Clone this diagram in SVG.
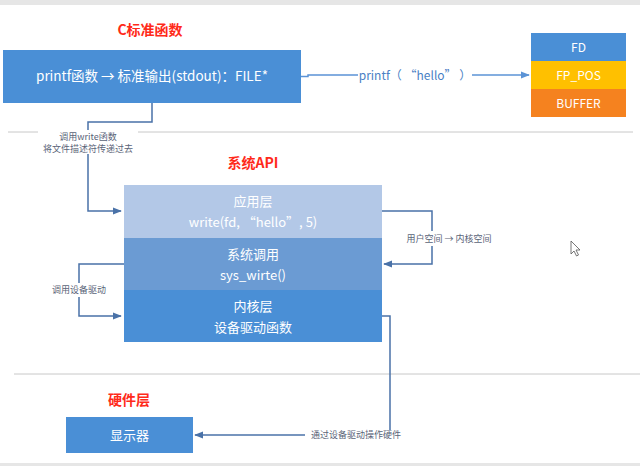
<svg xmlns="http://www.w3.org/2000/svg" width="640" height="466" viewBox="0 0 640 466">
<defs>
<style>
text{font-family:"Noto Sans CJK SC","Noto Sans",sans-serif;}
.title{fill:#ff2a1a;font-size:14px;font-weight:bold;text-anchor:middle;}
.w{fill:#ffffff;font-size:13px;text-anchor:middle;}
.wb{fill:#ffffff;font-size:13.5px;text-anchor:middle;}
.ws{fill:#ffffff;font-size:12px;text-anchor:middle;}
.lbl{fill:#5a6478;font-size:9px;text-anchor:middle;}
.conn{fill:none;stroke:#4a72a8;stroke-width:1.5;}
.conn2{fill:none;stroke:#5b93d6;stroke-width:1.5;}
.sep{stroke:#c8c8c8;stroke-width:1;}
</style>
<marker id="ah" viewBox="0 0 10 10" refX="9" refY="5" markerWidth="6" markerHeight="6" orient="auto-start-reverse">
<path d="M0,1 L10,5 L0,9 z" fill="#4a72a8"/>
</marker>
<marker id="ah2" viewBox="0 0 10 10" refX="9" refY="5" markerWidth="6" markerHeight="6" orient="auto-start-reverse">
<path d="M0,1 L10,5 L0,9 z" fill="#5b93d6"/>
</marker>
</defs>
<rect x="0" y="0" width="640" height="466" fill="#ffffff"/>
<rect x="0" y="0" width="640" height="5" fill="#e6e6e6"/>
<rect x="0" y="463" width="640" height="3" fill="#e6e6e6"/>

<g id="separators">
<line class="sep" x1="8" y1="132" x2="38" y2="132"/>
<line class="sep" x1="138" y1="132" x2="633" y2="132"/>
<line class="sep" x1="14" y1="374" x2="640" y2="374"/>
</g>

<g id="title-c"><text class="title" x="150" y="35">C标准函数</text></g>
<g id="title-api"><text class="title" x="253" y="168">系统API</text></g>
<g id="title-hw"><text class="title" x="129" y="405">硬件层</text></g>

<g id="stdout-box">
<rect x="3" y="50" width="298" height="53" fill="#4a8fd6"/>
<text class="wb" x="152" y="81">printf函数 → 标准输出(stdout)：FILE*</text>
</g>

<g id="file-struct">
<rect x="531" y="33" width="95" height="28" fill="#4a8fd6"/>
<text class="ws" x="578.5" y="51.5">FD</text>
<rect x="531" y="61" width="95" height="28" fill="#ffc000"/>
<text class="ws" x="578.5" y="79.5">FP_POS</text>
<rect x="531" y="89" width="95" height="28" fill="#f5821f"/>
<text class="ws" x="578.5" y="107.5">BUFFER</text>
</g>

<g id="api-stack">
<rect x="124" y="185" width="258" height="53" fill="#b3c8e7"/>
<text class="w" x="253" y="206">应用层</text>
<text class="w" x="253" y="227">write(fd, “hello”, 5)</text>
<rect x="124" y="238" width="258" height="52" fill="#6b9bd3"/>
<text class="w" x="253" y="259">系统调用</text>
<text class="w" x="253" y="280">sys_wirte()</text>
<rect x="124" y="290" width="258" height="52" fill="#4a8fd6"/>
<text class="w" x="253" y="311">内核层</text>
<text class="w" x="253" y="332">设备驱动函数</text>
</g>

<g id="display">
<rect x="66" y="417" width="127" height="36" fill="#4a8fd6"/>
<text class="w" x="129.5" y="440">显示器</text>
</g>

<g id="connectors">
<path class="conn2" d="M301,76.5 L308,76.5 L308,75 L358,75" />
<path class="conn2" d="M472,75 L529,75" marker-end="url(#ah2)"/>
<text x="415" y="79.5" fill="#4a7fc4" font-size="12" text-anchor="middle">printf（ “hello” ）</text>

<path class="conn" d="M152,103 L152,122 L88,122 L88,130"/>
<path class="conn" d="M88,154 L88,211 L121,211" marker-end="url(#ah)"/>
<text class="lbl" x="88" y="140">调用write函数</text>
<text class="lbl" x="88" y="152">将文件描述符传递过去</text>

<path class="conn" d="M382,211 L432,211 L432,231"/>
<path class="conn" d="M432,246 L432,264 L384,264" marker-end="url(#ah)"/>
<text class="lbl" x="449" y="242">用户空间 → 内核空间</text>

<path class="conn" d="M124,264 L79,264 L79,283"/>
<path class="conn" d="M79,297 L79,316 L121,316" marker-end="url(#ah)"/>
<text class="lbl" x="79" y="293">调用设备驱动</text>

<path class="conn" d="M382,316 L390,316 L390,430"/>
<path class="conn" d="M305,435 L195,435" marker-end="url(#ah)"/>
<text class="lbl" x="356" y="438">通过设备驱动操作硬件</text>
</g>

<g id="cursor">
<path d="M571,241 L571,254 L574,251 L576.5,256 L578.5,255 L576,250 L580,250 Z" fill="#ffffff" stroke="#555555" stroke-width="0.8"/>
</g>
</svg>
